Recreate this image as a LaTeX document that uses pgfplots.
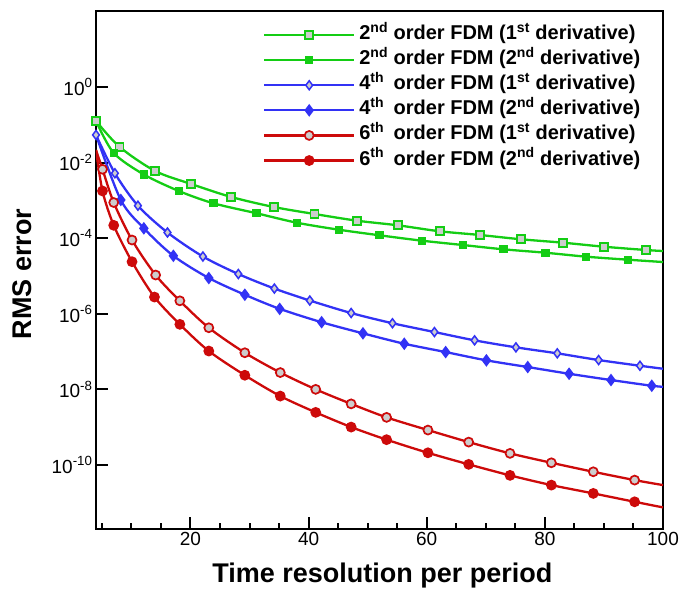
\documentclass[border=0pt]{standalone}
\usepackage{fontspec}
\setmainfont{Liberation Sans}
\usepackage{pgfplots}
\pgfplotsset{compat=1.18}
\definecolor{cgreen}{RGB}{20,205,20}
\definecolor{cblue}{RGB}{50,50,245}
\definecolor{cred}{RGB}{205,10,10}
\definecolor{mfill}{RGB}{205,205,205}
\begin{document}
\begin{tikzpicture}
\useasboundingbox (-96bp,-61bp) rectangle (587bp,529bp);
\begin{axis}[
  at={(0,0)}, anchor=south west,
  scale only axis, width=567bp, height=518bp,
  xmin=4, xmax=100, ymode=log, ymin=2.04e-12, ymax=1.02e2,
  xtick={20,40,60,80,100}, xticklabels={20,40,60,80,100},
  minor xtick={5,10,15,25,30,35,45,50,55,65,70,75,85,90,95},
  ytick={1,1e-2,1e-4,1e-6,1e-8,1e-10},
  yticklabels={10\textsuperscript{0},10\textsuperscript{-2},10\textsuperscript{-4},10\textsuperscript{-6},10\textsuperscript{-8},10\textsuperscript{-10}},
  yminorticks=false,
  xtick pos=bottom, ytick pos=left,
  tick align=inside,
  major tick length=12bp, minor tick length=6bp,
  tick style={black, line width=2bp},
  axis line style={line width=2.5bp},
  tick label style={font=\fontsize{19bp}{22bp}\selectfont},
  xlabel={Time resolution per period},
  ylabel={RMS error},
  label style={font=\fontsize{27bp}{32bp}\selectfont\bfseries},
  xlabel style={at={(axis description cs:0.505,-0.103)}, anchor=base},
  ylabel style={at={(axis description cs:-0.1129,0.492)}, anchor=base},
  legend style={at={(axis description cs:0.289,0.981)}, anchor=north west, draw=none, fill=none,
    font=\fontsize{20bp}{24bp}\selectfont\bfseries, row sep=1.1bp,
    nodes={text height=14bp, text depth=5bp, inner ysep=2.5bp, inner xsep=4bp}},
  legend cell align=left,
  legend image code/.code={\draw[#1, mark indices={2}] plot coordinates {(0bp,0bp) (45bp,0bp) (90bp,0bp)};},
]
\addplot[color=cgreen, line width=2.3bp, smooth, mark=square*, mark size=4bp,
  mark options={fill=mfill, line width=1.7bp, solid}, mark indices={1,...,15}] coordinates {
(4,0.1262) (8.0,2.588e-2) (14.0,5.998e-3) (20.1,2.716e-3) (26.9,1.230e-3) (34.1,6.683e-4) (41.0,4.365e-4) (48.2,2.904e-4) (55.1,2.193e-4) (62.2,1.524e-4) (69.0,1.216e-4) (76.0,9.354e-5) (83.1,7.603e-5) (90.0,5.957e-5) (97.1,4.875e-5) (100,4.581e-5)};
\addlegendentry{2\textsuperscript{nd} order FDM (1\textsuperscript{st} derivative)}
\addplot[color=cgreen, line width=2.3bp, smooth, mark=square*, mark size=3bp,
  mark options={fill=cgreen, solid}, mark indices={2,...,15}] coordinates {
(4,0.1262) (7.0,1.795e-2) (12.1,4.842e-3) (18.1,1.750e-3) (23.9,8.375e-4) (31.2,4.560e-4) (38.0,2.570e-4) (45.1,1.679e-4) (52.0,1.194e-4) (59.2,8.590e-5) (66.1,6.607e-5) (73.0,5.082e-5) (80.1,4.130e-5) (87.0,3.243e-5) (94.1,2.698e-5) (100,2.344e-5)};
\addlegendentry{2\textsuperscript{nd} order FDM (2\textsuperscript{nd} derivative)}
\addplot[color=cblue, line width=2.3bp, smooth, mark=diamond*, mark size=4.5bp,
  mark options={fill=mfill, line width=1.5bp, solid}, mark indices={1,...,16}] coordinates {
(4,5.370e-2) (7.2,5.212e-3) (11.1,7.244e-4) (16.1,1.416e-4) (22.1,3.281e-5) (28.1,1.130e-5) (34.2,4.667e-6) (40.2,2.249e-6) (47.2,1.050e-6) (54.2,5.636e-7) (61.3,3.304e-7) (68.1,1.991e-7) (75.1,1.300e-7) (82.1,9.016e-8) (89.1,5.998e-8) (96.1,4.236e-8) (100,3.532e-8)};
\addlegendentry{4\textsuperscript{th}\hspace{0.2em} order FDM (1\textsuperscript{st} derivative)}
\addplot[color=cblue, line width=2.3bp, smooth, mark=diamond*, mark size=4.5bp,
  mark options={fill=cblue, solid}, mark indices={2,...,16}] coordinates {
(4,5.370e-2) (8.2,1.026e-3) (12.1,1.828e-4) (17.1,3.420e-5) (23.1,8.851e-6) (29.2,3.199e-6) (35.1,1.355e-6) (42.2,5.998e-7) (49.2,3.048e-7) (56.2,1.618e-7) (63.2,9.750e-8) (70.1,5.888e-8) (77.1,3.917e-8) (84.1,2.600e-8) (91.2,1.774e-8) (98.1,1.253e-8) (100,1.178e-8)};
\addlegendentry{4\textsuperscript{th}\hspace{0.2em} order FDM (2\textsuperscript{nd} derivative)}
\addplot[color=cred, line width=2.3bp, smooth, mark=*, mark size=4.5bp,
  mark options={fill=mfill, line width=1.7bp, solid}, mark indices={2,...,18}] coordinates {
(4,2.153e-2) (5.1,6.653e-3) (7.0,8.790e-4) (10.1,8.954e-5) (14.1,1.062e-5) (18.2,2.208e-6) (23.1,4.285e-7) (29.2,9.354e-8) (35.2,2.799e-8) (41.2,1.007e-8) (47.2,4.159e-9) (53.2,1.828e-9) (60.2,8.433e-10) (67.1,4.055e-10) (74.1,2.042e-10) (81.1,1.151e-10) (88.2,6.653e-11) (95.2,4.009e-11) (100,2.958e-11)};
\addlegendentry{6\textsuperscript{th}\hspace{0.2em} order FDM (1\textsuperscript{st} derivative)}
\addplot[color=cred, line width=2.3bp, smooth, mark=*, mark size=4.2bp,
  mark options={fill=cred, solid}, mark indices={2,...,18}] coordinates {
(4,2.153e-2) (5.1,1.774e-3) (7.0,2.193e-4) (10.1,2.388e-5) (13.9,2.780e-6) (18.2,5.272e-7) (23.1,1.038e-7) (29.2,2.377e-8) (35.2,6.683e-9) (41.2,2.477e-9) (47.2,1.012e-9) (53.2,4.699e-10) (60.2,2.113e-10) (67.1,1.045e-10) (74.1,5.346e-11) (81.1,2.958e-11) (88.2,1.782e-11) (95.2,1.069e-11) (100,7.603e-12)};
\addlegendentry{6\textsuperscript{th}\hspace{0.2em} order FDM (2\textsuperscript{nd} derivative)}
\end{axis}
\end{tikzpicture}
\end{document}
